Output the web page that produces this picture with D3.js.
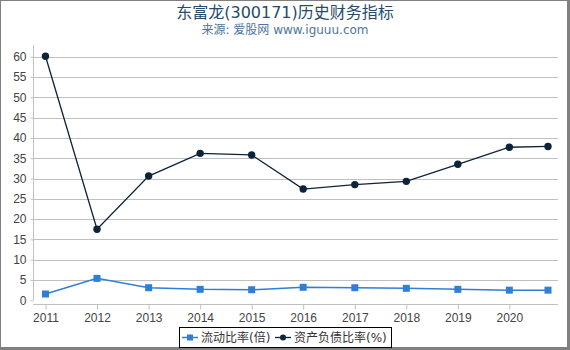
<!DOCTYPE html>
<html>
<head>
<meta charset="utf-8">
<script src="https://cdn.jsdelivr.net/npm/d3@7"></script>
<style>
  body { margin: 0; background: #fff; }
  svg { display: block; font-family: "DejaVu Sans", "Noto Sans CJK SC", sans-serif; }
</style>
</head>
<body>
<svg id="chart"></svg>
<script>
const dates = ["2011-01-01", "2012-01-01", "2013-01-01", "2014-01-01", "2015-01-01",
  "2016-01-01", "2017-01-01", "2018-01-01", "2019-01-01", "2020-01-01", "2020-10-01"];
const currentRatio = [1.55, 5.4, 3.1, 2.7, 2.6, 3.2, 3.1, 2.95, 2.7, 2.5, 2.5];
const debtRatio = [60.1, 17.5, 30.6, 36.2, 35.8, 27.4, 28.5, 29.3, 33.5, 37.7, 37.9];
const yTicks = [0, 5, 10, 15, 20, 25, 30, 35, 40, 45, 50, 55, 60];
const seriesNames = ["流动比率(倍)", "资产负债比率(%)"];

const width = 570, height = 350;
const parse = d3.timeParse("%Y-%m-%d");
const xs = dates.map(parse);

const svg = d3.select("#chart").attr("width", width).attr("height", height);

// frame
svg.append("rect").attr("width", width).attr("height", height).attr("fill", "#808080");
svg.append("rect").attr("x", 1).attr("y", 1).attr("width", 566).attr("height", 346).attr("fill", "#fff");

const plotLeft = 33, plotRight = 558, plotTop = 45, plotBottom = 304;

const x = d3.scaleTime().domain([xs[0], xs[xs.length - 1]]).range([45.5, 548]);
const y = d3.scaleLinear().domain([0, 60]).range([300.3, 56.7]);

// title
svg.append("text").attr("x", 285).attr("y", 18).attr("text-anchor", "middle")
  .attr("font-size", 16).attr("fill", "#274b6d").text("东富龙(300171)历史财务指标");
svg.append("text").attr("x", 285).attr("y", 34).attr("text-anchor", "middle")
  .attr("font-size", 12).attr("fill", "#4d759e").text("来源: 爱股网 www.iguuu.com");

// grid
svg.append("g").selectAll("line").data(yTicks.filter(d => d > 0)).join("line")
  .attr("x1", plotLeft).attr("x2", plotRight)
  .attr("y1", d => Math.round(y(d)) + 0.5).attr("y2", d => Math.round(y(d)) + 0.5)
  .attr("stroke", "#c0c0c0");

// y axis
const yAxis = svg.append("g").attr("transform", `translate(${plotLeft + 0.5},0)`)
  .call(d3.axisLeft(y).tickValues(yTicks).tickSize(3).tickPadding(4));
yAxis.select(".domain").remove();
yAxis.selectAll("line").attr("stroke", "#c0c0c0");
yAxis.selectAll("text").attr("font-size", 12).attr("fill", "#444").attr("font-family", null);
svg.append("line").attr("x1", plotLeft + 0.5).attr("x2", plotLeft + 0.5).attr("y1", plotTop).attr("y2", 300)
  .attr("stroke", "#c0c0c0");

// x axis
const xAxis = svg.append("g").attr("transform", `translate(0,${plotBottom + 0.5})`)
  .call(d3.axisBottom(x).ticks(d3.timeYear.every(1)).tickFormat(d3.timeFormat("%Y"))
    .tickSize(5).tickPadding(4));
xAxis.select(".domain").remove();
xAxis.selectAll("line").attr("stroke", "#c0c0c0");
xAxis.selectAll("text").attr("font-size", 12).attr("fill", "#444").attr("font-family", null);
svg.append("line").attr("x1", plotLeft).attr("x2", plotRight).attr("y1", plotBottom + 0.5).attr("y2", plotBottom + 0.5)
  .attr("stroke", "#c0c0c0");

// series
const line = d3.line().x((d, i) => x(xs[i])).y(d => y(d));

svg.append("path").datum(currentRatio).attr("d", line)
  .attr("fill", "none").attr("stroke", "#2f7ed8").attr("stroke-width", 1.5);
svg.append("g").selectAll("rect").data(currentRatio).join("rect")
  .attr("x", (d, i) => x(xs[i]) - 3.5).attr("y", d => y(d) - 3.5)
  .attr("width", 7).attr("height", 7).attr("fill", "#2f7ed8");

svg.append("path").datum(debtRatio).attr("d", line)
  .attr("fill", "none").attr("stroke", "#0d233a").attr("stroke-width", 1.3);
svg.append("g").selectAll("circle").data(debtRatio).join("circle")
  .attr("cx", (d, i) => x(xs[i])).attr("cy", d => y(d)).attr("r", 3.7)
  .attr("fill", "#0d233a");

// legend
const lg = svg.append("g");
lg.append("rect").attr("x", 179.5).attr("y", 327.5).attr("width", 212).attr("height", 20)
  .attr("fill", "#fff").attr("stroke", "#000");
lg.append("line").attr("x1", 182).attr("x2", 198).attr("y1", 337.5).attr("y2", 337.5)
  .attr("stroke", "#2f7ed8").attr("stroke-width", 1.5);
lg.append("rect").attr("x", 187).attr("y", 334.5).attr("width", 6).attr("height", 6).attr("fill", "#2f7ed8");
lg.append("text").attr("x", 201).attr("y", 342).attr("font-size", 12).attr("fill", "#333").text(seriesNames[0]);
lg.append("line").attr("x1", 275).attr("x2", 291).attr("y1", 337.5).attr("y2", 337.5)
  .attr("stroke", "#0d233a").attr("stroke-width", 1.3);
lg.append("circle").attr("cx", 283).attr("cy", 337.5).attr("r", 3).attr("fill", "#0d233a");
lg.append("text").attr("x", 294).attr("y", 342).attr("font-size", 12).attr("fill", "#333").text(seriesNames[1]);
</script>
</body>
</html>
